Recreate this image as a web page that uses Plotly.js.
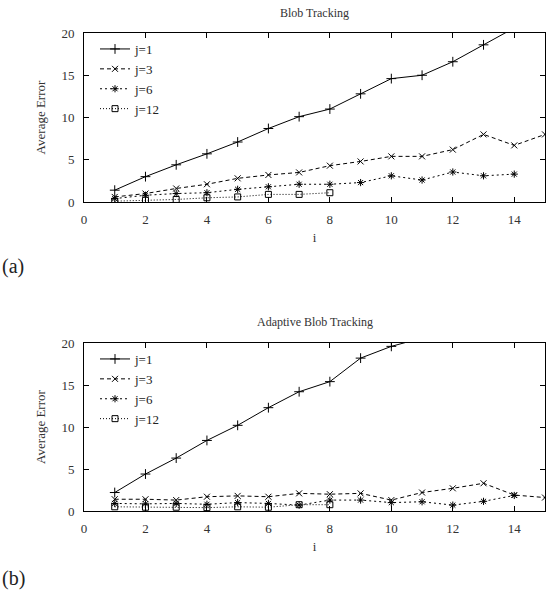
<!DOCTYPE html>
<html><head><meta charset="utf-8">
<script src="https://cdn.plot.ly/plotly-3.0.1.min.js"></script>
<style>html,body{margin:0;padding:0;background:#fff}#chart{width:546px;height:599px}</style>
</head><body><div id="chart"></div>
<script>
// Panel (a): Blob Tracking
const seriesNames = ["j=1", "j=3", "j=6", "j=12"];
const xA1 = [1,2,3,4,5,6,7,8,9,10,11,12,13,14];
const yA1 = [1.4,3.0,4.4,5.7,7.1,8.7,10.1,11.0,12.8,14.6,15.0,16.6,18.6,20.6];
const xA3 = [1,2,3,4,5,6,7,8,9,10,11,12,13,14,15];
const yA3 = [0.6,1.0,1.6,2.1,2.8,3.2,3.5,4.3,4.8,5.4,5.4,6.2,8.0,6.7,8.0];
const xA6 = [1,2,3,4,5,6,7,8,9,10,11,12,13,14];
const yA6 = [0.4,0.8,1.0,1.1,1.5,1.8,2.1,2.1,2.3,3.1,2.6,3.55,3.1,3.3];
const xA12 = [1,2,3,4,5,6,7,8];
const yA12 = [0.1,0.2,0.3,0.5,0.6,0.9,0.9,1.1];
// Panel (b): Adaptive Blob Tracking
const xB1 = [1,2,3,4,5,6,7,8,9,10,11];
const yB1 = [2.2,4.4,6.3,8.4,10.2,12.3,14.2,15.4,18.2,19.6,20.6];
const xB3 = [1,2,3,4,5,6,7,8,9,10,11,12,13,14,15];
const yB3 = [1.4,1.4,1.3,1.7,1.8,1.7,2.1,2.0,2.1,1.3,2.2,2.7,3.3,1.9,1.6];
const xB6 = [1,2,3,4,5,6,7,8,9,10,11,12,13,14];
const yB6 = [0.9,0.85,0.9,0.8,1.0,0.9,0.7,1.3,1.3,1.0,1.1,0.7,1.15,1.85];
const xB12 = [1,2,3,4,5,6,7,8];
const yB12 = [0.5,0.45,0.45,0.4,0.5,0.45,0.75,0.75];
const titles = ["Blob Tracking", "Adaptive Blob Tracking"];
const xTicks = [0,2,4,6,8,10,12,14];
const yTicks = [0,5,10,15,20];

const serif = "'Liberation Serif', 'Times New Roman', serif";
const dashes = ["solid", "4px,3px", "2px,3px", "1px,2px"];
const symbols = ["cross-thin-open", "x-thin-open", "asterisk-open", "square-open"];
const sizes = [7, 6, 6, 6];

function mk(x, y, k, xa, ya, lg) {
  return {
    x: x, y: y, type: "scatter", mode: "lines+markers", name: seriesNames[k],
    xaxis: xa, yaxis: ya, legend: lg, cliponaxis: true,
    line: {color: "#000", width: 1, dash: dashes[k]},
    marker: {symbol: symbols[k], size: sizes[k], color: "#000", line: {color: "#000", width: 1}}
  };
}
const data = [
  mk(xA1, yA1, 0, "x", "y", "legend"),
  mk(xA3, yA3, 1, "x", "y", "legend"),
  mk(xA6, yA6, 2, "x", "y", "legend"),
  mk(xA12, yA12, 3, "x", "y", "legend"),
  mk(xB1, yB1, 0, "x2", "y2", "legend2"),
  mk(xB3, yB3, 1, "x2", "y2", "legend2"),
  mk(xB6, yB6, 2, "x2", "y2", "legend2"),
  mk(xB12, yB12, 3, "x2", "y2", "legend2")
];

const W = 546, H = 599;
const xdom = [84/W, 545/W];
const ydomA = [1-202/H, 1-33/H];
const ydomB = [1-511/H, 1-343/H];

function xax(anchor) {
  return {
    domain: xdom, anchor: anchor, range: [0, 15], tickvals: xTicks,
    ticks: "inside", ticklen: 5, tickwidth: 1, tickcolor: "#000",
    showline: true, linecolor: "#000", linewidth: 1, mirror: "ticks",
    showgrid: false, zeroline: false, ticklabelstandoff: 5,
    tickfont: {family: serif, size: 13, color: "#333"},
    title: {text: "i", font: {family: serif, size: 13, color: "#333"}, standoff: 7}
  };
}
function yax(anchor, dom) {
  return {
    domain: dom, anchor: anchor, range: [0, 20], tickvals: yTicks,
    ticks: "inside", ticklen: 5, tickwidth: 1, tickcolor: "#000",
    showline: true, linecolor: "#000", linewidth: 1, mirror: "ticks",
    showgrid: false, zeroline: false, ticklabelstandoff: 6,
    tickfont: {family: serif, size: 13, color: "#333"},
    title: {text: "Average Error", font: {family: serif, size: 13, color: "#333"}, standoff: 12}
  };
}
function leg(yTop) {
  return {
    x: 95/W, y: yTop, xanchor: "left", yanchor: "top",
    bgcolor: "rgba(0,0,0,0)", borderwidth: 0, tracegroupgap: 0,
    font: {family: serif, size: 13, color: "#222"}, itemwidth: 30
  };
}

const layout = {
  width: W, height: H, margin: {l: 0, r: 0, t: 0, b: 0},
  paper_bgcolor: "#fff", plot_bgcolor: "#fff", showlegend: true,
  xaxis: xax("y"), yaxis: yax("x", ydomA),
  xaxis2: xax("y2"), yaxis2: yax("x2", ydomB),
  legend: leg(1-34/H), legend2: leg(1-344/H),
  annotations: [
    {text: titles[0], xref: "paper", yref: "paper", x: (xdom[0]+xdom[1])/2, y: 1-13/H,
     xanchor: "center", yanchor: "middle", showarrow: false, font: {family: serif, size: 12, color: "#333"}},
    {text: titles[1], xref: "paper", yref: "paper", x: (xdom[0]+xdom[1])/2, y: 1-322/H,
     xanchor: "center", yanchor: "middle", showarrow: false, font: {family: serif, size: 12, color: "#333"}},
    {text: "(a)", xref: "paper", yref: "paper", x: 0, y: 1-266/H,
     xanchor: "left", yanchor: "middle", showarrow: false, font: {family: serif, size: 20, color: "#222"}},
    {text: "(b)", xref: "paper", yref: "paper", x: 0, y: 1-578/H,
     xanchor: "left", yanchor: "middle", showarrow: false, font: {family: serif, size: 20, color: "#222"}}
  ]
};
Plotly.newPlot("chart", data, layout, {staticPlot: true, displayModeBar: false});
</script></body></html>
